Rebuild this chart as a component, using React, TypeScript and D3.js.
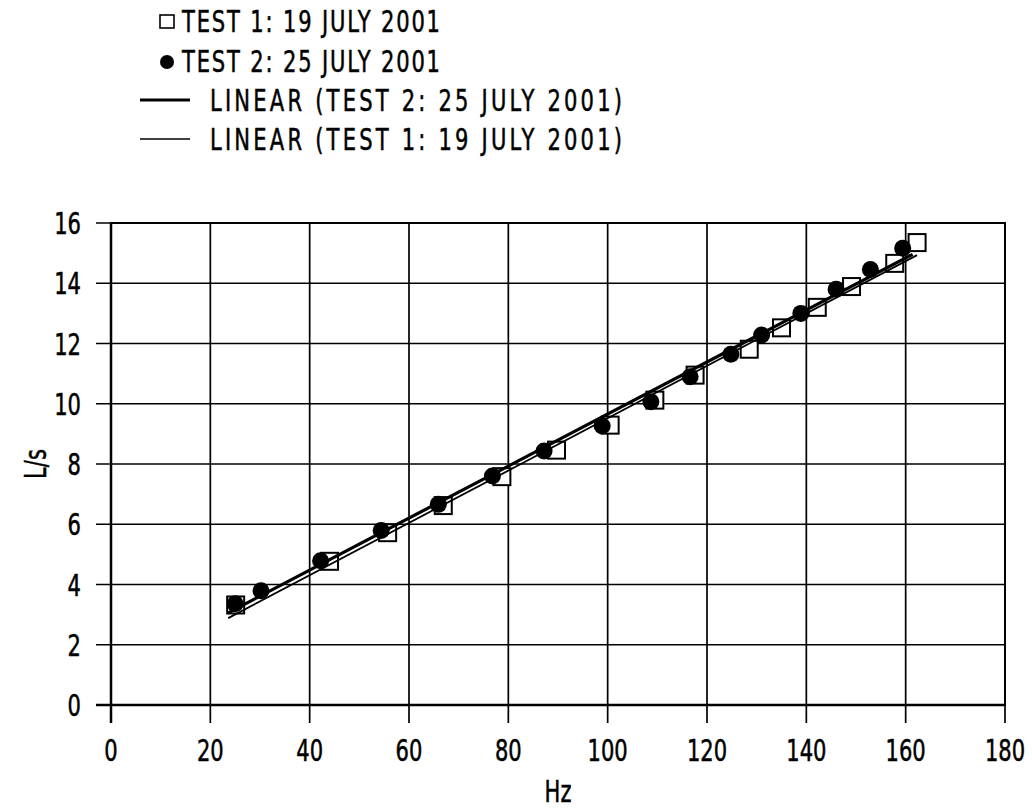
import React, { useEffect, useRef } from "react";
import * as d3 from "d3";

// Test 1: 19 July 2001 (open squares)
const test1Hz = [25.1, 44.0, 55.7, 66.9, 78.7, 89.7, 100.5, 109.5, 117.6, 128.5, 135.0, 142.2, 149.1, 157.8, 162.3];
const test1Flow = [3.32, 4.77, 5.72, 6.62, 7.58, 8.46, 9.29, 10.12, 10.95, 11.81, 12.52, 13.2, 13.89, 14.66, 15.35];

// Test 2: 25 July 2001 (filled circles)
const test2Hz = [25.0, 30.2, 42.2, 54.4, 65.9, 76.8, 87.2, 98.9, 108.7, 116.6, 124.8, 131.0, 138.9, 146.0, 152.9, 159.4];
const test2Flow = [3.36, 3.79, 4.79, 5.79, 6.66, 7.6, 8.43, 9.26, 10.07, 10.9, 11.64, 12.28, 13.0, 13.8, 14.46, 15.16];

const xTicks = [0, 20, 40, 60, 80, 100, 120, 140, 160, 180];
const yTicks = [0, 2, 4, 6, 8, 10, 12, 14, 16];

const legendLabels = [
  "TEST 1: 19 JULY 2001",
  "TEST 2: 25 JULY 2001",
  "LINEAR (TEST 2: 25 JULY 2001)",
  "LINEAR (TEST 1: 19 JULY 2001)",
];

const FONT = "'Liberation Sans Narrow', 'Arial Narrow', 'DejaVu Sans Condensed', sans-serif";
const SQUEEZE = 0.78;

// least squares fit, returns [slope, intercept]
const fit = (xs: number[], ys: number[]) => {
  const mx = d3.mean(xs) as number;
  const my = d3.mean(ys) as number;
  let num = 0;
  let den = 0;
  xs.forEach((x, i) => {
    num += (x - mx) * (ys[i] - my);
    den += (x - mx) * (x - mx);
  });
  const slope = num / den;
  return [slope, my - slope * mx];
};

// condensed looking text: tall glyphs squeezed horizontally
const label = (parent: any, x: number, y: number, str: string, anchor = "start", rotate = 0) =>
  parent.append("text")
    .attr("transform", `translate(${x},${y}) rotate(${rotate}) scale(${SQUEEZE},1)`)
    .attr("text-anchor", anchor)
    .style("font-family", FONT)
    .style("font-size", "30px")
    .style("stroke", "#000")
    .style("stroke-width", 0.5)
    .text(str);

const App = () => {
  const svgRef = useRef<SVGSVGElement>(null);

  useEffect(() => {
    const svg = d3.select(svgRef.current);
    svg.selectAll("*").remove();

    const width = 1032;
    const height = 808;
    const left = 111;
    const right = 1005;
    const top = 223;
    const bottom = 705;

    const x = d3.scaleLinear().domain([0, 180]).range([left, right]);
    const y = d3.scaleLinear().domain([0, 16]).range([bottom, top]);

    svg.append("rect").attr("width", width).attr("height", height).attr("fill", "#fff");

    // grid lines (extend past the axes as tick marks)
    svg.append("g")
      .selectAll("line")
      .data(xTicks)
      .join("line")
      .attr("x1", (d) => x(d))
      .attr("x2", (d) => x(d))
      .attr("y1", top)
      .attr("y2", bottom + 18)
      .attr("stroke", "#000")
      .attr("stroke-width", (d) => (d === 0 ? 2.5 : 1.7));

    svg.append("g")
      .selectAll("line")
      .data(yTicks)
      .join("line")
      .attr("x1", left - 15)
      .attr("x2", right)
      .attr("y1", (d) => y(d))
      .attr("y2", (d) => y(d))
      .attr("stroke", "#000")
      .attr("stroke-width", (d) => (d === 0 ? 2.5 : 1.7));

    // plot border
    svg.append("rect")
      .attr("x", left)
      .attr("y", top)
      .attr("width", right - left)
      .attr("height", bottom - top)
      .attr("fill", "none")
      .attr("stroke", "#000")
      .attr("stroke-width", 2);

    // tick labels
    const xLab = svg.append("g");
    xTicks.forEach((d) => label(xLab, x(d), bottom + 56, String(d), "middle"));

    const yLab = svg.append("g");
    yTicks.forEach((d) => label(yLab, 81, y(d) + 11, String(d), "end"));

    // axis titles
    label(svg, (left + right) / 2, 802, "Hz", "middle");
    label(svg, 46, (top + bottom) / 2, "L/s", "middle", -90);

    // test 1 squares
    const sq = 17;
    svg.append("g")
      .selectAll("rect")
      .data(test1Hz)
      .join("rect")
      .attr("x", (d) => x(d) - sq / 2)
      .attr("y", (d, i) => y(test1Flow[i]) - sq / 2)
      .attr("width", sq)
      .attr("height", sq)
      .attr("fill", "#fff")
      .attr("stroke", "#000")
      .attr("stroke-width", 2);

    // linear trendlines
    const [s1, b1] = fit(test1Hz, test1Flow);
    const [s2, b2] = fit(test2Hz, test2Flow);
    const x1Ext = d3.extent(test1Hz) as [number, number];
    const x2Ext = d3.extent(test2Hz) as [number, number];

    svg.append("line")
      .attr("x1", x(x1Ext[0] - 1.5))
      .attr("x2", x(x1Ext[1]))
      .attr("y1", y(s1 * (x1Ext[0] - 1.5) + b1))
      .attr("y2", y(s1 * x1Ext[1] + b1))
      .attr("stroke", "#000")
      .attr("stroke-width", 1.8);

    svg.append("line")
      .attr("x1", x(x2Ext[0] - 1.5))
      .attr("x2", x(x2Ext[1] + 2))
      .attr("y1", y(s2 * (x2Ext[0] - 1.5) + b2))
      .attr("y2", y(s2 * (x2Ext[1] + 2) + b2))
      .attr("stroke", "#000")
      .attr("stroke-width", 3.2);

    // test 2 circles
    svg.append("g")
      .selectAll("circle")
      .data(test2Hz)
      .join("circle")
      .attr("cx", (d) => x(d))
      .attr("cy", (d, i) => y(test2Flow[i]))
      .attr("r", 8.5)
      .attr("fill", "#000");

    // legend
    const legend = svg.append("g");
    const rowY = [32, 72, 111, 150];
    const textX = [182, 182, 210, 210];
    const textLen = [258, 258, 412, 412];

    legend.append("rect")
      .attr("x", 160)
      .attr("y", rowY[0] - 17)
      .attr("width", 14)
      .attr("height", 13)
      .attr("fill", "#fff")
      .attr("stroke", "#000")
      .attr("stroke-width", 1.6);

    legend.append("circle")
      .attr("cx", 167)
      .attr("cy", rowY[1] - 10)
      .attr("r", 7)
      .attr("fill", "#000");

    legend.append("line")
      .attr("x1", 140)
      .attr("x2", 190)
      .attr("y1", rowY[2] - 11)
      .attr("y2", rowY[2] - 11)
      .attr("stroke", "#000")
      .attr("stroke-width", 3.2);

    legend.append("line")
      .attr("x1", 140)
      .attr("x2", 190)
      .attr("y1", rowY[3] - 11)
      .attr("y2", rowY[3] - 11)
      .attr("stroke", "#000")
      .attr("stroke-width", 1.6);

    legendLabels.forEach((d, i) => {
      label(legend, textX[i], rowY[i], d)
        .attr("textLength", textLen[i] / SQUEEZE)
        .attr("lengthAdjust", "spacing");
    });
  }, []);

  return (
    <svg
      ref={svgRef}
      width={1032}
      height={808}
      style={{ position: "absolute", left: 0, top: 0 }}
    ></svg>
  );
};

export default App;
